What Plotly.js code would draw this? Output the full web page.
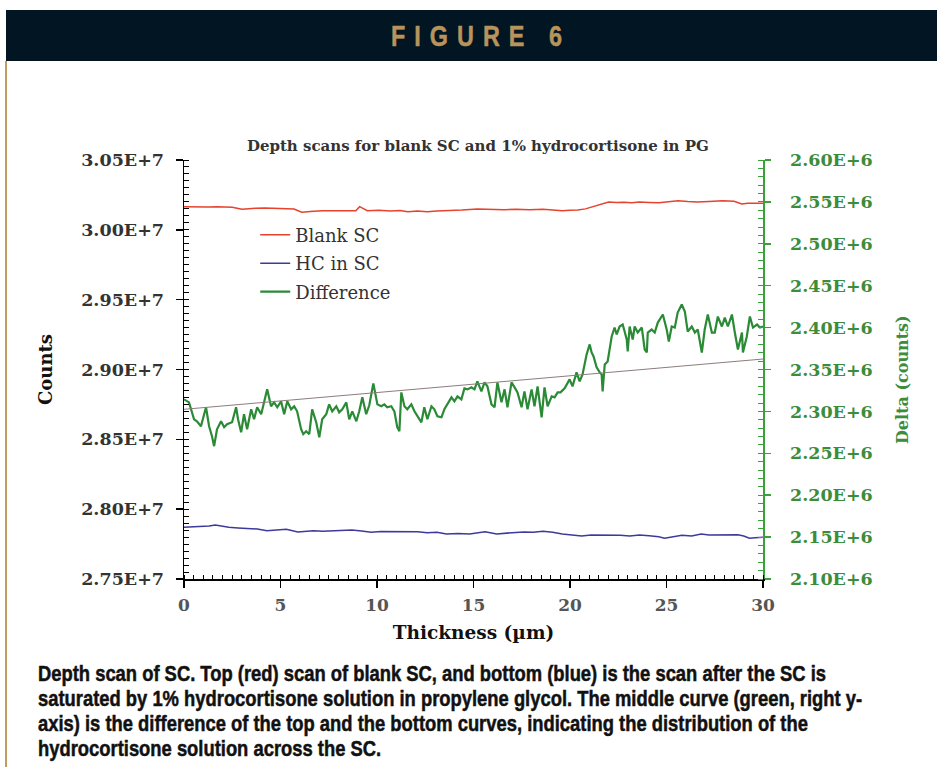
<!DOCTYPE html>
<html>
<head>
<meta charset="utf-8">
<script src="https://cdn.plot.ly/plotly-3.0.1.min.js"></script>
<style>
  html, body { margin: 0; padding: 0; background: #ffffff; }
  #wrap { position: relative; width: 937px; height: 767px; overflow: hidden; background: #ffffff; }
  #chart { position: absolute; left: 0; top: 0; width: 937px; height: 767px; }
  #header { position: absolute; left: 6px; top: 10px; width: 931px; height: 51px; background: #011522; z-index: 2; }
  #headtext { position: absolute; left: 385px; top: 0; line-height: 51px; white-space: nowrap;
              color: #b8935c; font-family: "Liberation Sans", Arial, sans-serif; font-weight: bold; font-size: 30px;
              -webkit-text-stroke: 0.5px #b8935c; transform-origin: 0 50%; }
  #rule { position: absolute; left: 5px; top: 61px; width: 2px; height: 706px; background: #c29c62; z-index: 2; }
  #caption { position: absolute; left: 38px; top: 662px; z-index: 2; color: #111;
             font-family: "Liberation Sans", Arial, sans-serif; font-weight: bold;
             font-size: 21.5px; line-height: 25px; white-space: nowrap; transform-origin: 0 0;
             -webkit-text-stroke: 0.5px #111; }
  #caption span { display: inline-block; }
</style>
</head>
<body>
<div id="wrap">
  <div id="chart"></div>
  <div id="header"><span id="headtext">FIGURE 6</span></div>
  <div id="rule"></div>
  <div id="caption"><span id="cap1">Depth scan of SC. Top (red) scan of blank SC, and bottom (blue) is the scan after the SC is</span><br><span>saturated by 1% hydrocortisone solution in propylene glycol. The middle curve (green, right y-</span><br><span>axis) is the difference of the top and the bottom curves, indicating the distribution of the</span><br><span>hydrocortisone solution across the SC.</span></div>
</div>
<script>
// ---- Data ----
const blankX = [0,0.5,0.93,1.3,1.71,2.1,2.5,3.0,3.3,3.7,4.2,4.7,5.2,5.7,6.1,6.4,6.7,7.2,7.7,8.3,8.9,9.1,9.5,10.1,10.7,11.2,11.6,12.1,12.6,13.1,13.6,14.4,15.2,15.9,16.6,17.2,17.9,18.6,19.1,19.6,20.0,20.4,20.8,21.2,21.6,22.0,22.4,22.8,23.2,23.6,24.1,24.6,25.1,25.6,26.1,26.6,27.2,27.9,28.5,28.9,29.2,29.5,30];
const blankSC = [30165600,30163000,30161300,30164000,30165600,30162000,30161300,30147000,30152000,30154200,30156000,30154200,30152000,30149200,30125700,30130000,30132700,30136000,30137000,30134000,30137000,30165600,30137000,30140000,30134800,30138000,30130000,30134000,30130000,30135000,30137000,30142000,30149200,30146000,30144200,30147000,30144000,30147000,30144000,30137000,30140000,30142000,30150000,30165600,30185000,30199300,30195000,30198000,30194300,30199000,30196000,30194300,30201000,30208600,30203000,30199300,30203000,30208600,30204300,30185000,30190000,30190000,30190000];

const hcX = [0,0.5,0.93,1.3,1.62,2.0,2.32,2.8,3.3,3.8,4.3,4.8,5.3,5.9,6.3,6.7,7.2,7.7,8.2,8.7,9.2,9.7,10.2,10.7,11.2,11.6,12.1,12.6,13.1,13.6,14.2,14.8,15.2,15.6,16.2,16.6,17.0,17.6,18.1,18.6,19.1,19.6,20.1,20.6,21.1,21.6,22.1,22.6,23.1,23.6,24.1,24.6,24.9,25.3,25.8,26.3,26.8,27.2,27.7,28.2,28.7,29.0,29.3,29.6,30];
const hcInSC = [27870100,27874000,27874400,27879000,27886600,27878000,27870100,27866000,27863000,27858000,27845800,27852000,27855800,27836500,27843000,27845800,27841000,27845800,27849000,27850800,27844000,27834300,27840000,27838600,27841000,27836500,27839000,27831500,27834000,27822200,27826000,27822200,27830000,27838600,27822200,27829000,27831500,27836500,27834000,27841500,27835000,27822200,27815000,27808000,27815000,27815000,27810000,27812800,27808000,27815000,27810000,27803000,27791500,27800000,27812800,27808000,27822200,27815000,27815000,27812000,27817000,27808000,27791500,27796000,27798700];

const diffX = [0,0.26,0.52,0.67,0.88,0.99,1.14,1.30,1.45,1.56,1.71,1.92,2.08,2.23,2.49,2.70,2.80,2.96,3.11,3.27,3.48,3.63,3.79,4.00,4.15,4.31,4.51,4.67,4.83,5.03,5.19,5.35,5.55,5.71,5.86,6.07,6.18,6.33,6.49,6.64,6.85,7.01,7.16,7.37,7.52,7.68,7.89,8.04,8.20,8.41,8.56,8.72,8.93,9.08,9.24,9.44,9.60,9.81,10.02,10.22,10.38,10.53,10.74,10.90,11.05,11.16,11.26,11.42,11.57,11.78,11.94,12.09,12.30,12.45,12.61,12.82,12.97,13.13,13.34,13.49,13.65,13.86,14.01,14.17,14.37,14.53,14.69,14.89,15.05,15.20,15.41,15.57,15.72,15.93,16.09,16.24,16.45,16.61,16.76,16.97,17.13,17.28,17.49,17.64,17.80,18.01,18.16,18.32,18.53,18.68,18.84,19.05,19.20,19.36,19.51,19.72,19.98,20.13,20.34,20.50,20.65,20.86,21.02,21.12,21.22,21.38,21.54,21.64,21.69,21.80,21.95,22.16,22.31,22.42,22.57,22.73,22.83,22.94,22.99,23.09,23.25,23.35,23.51,23.72,23.87,23.98,24.03,24.23,24.39,24.55,24.81,25.01,25.12,25.27,25.43,25.58,25.79,25.95,26.10,26.31,26.47,26.62,26.83,26.98,27.14,27.35,27.50,27.66,27.87,28.02,28.18,28.39,28.54,28.70,28.91,28.96,29.16,29.32,29.48,29.69,29.84,30.00];
const difference = [2314400,2310800,2290600,2288200,2282300,2293000,2304900,2282300,2270400,2258500,
  2278700,2288200,2281100,2284700,2287000,2304900,2290600,2275100,2296600,2278700,
  2302500,2290600,2304900,2296600,2310800,2326300,2306100,2310800,2304900,2312000,
  2296600,2312000,2302500,2306100,2300100,2278700,2272800,2276300,2272800,2302500,
  2287000,2269200,2290600,2296600,2308400,2300100,2306100,2298900,2302500,2310800,
  2290600,2300100,2288200,2300100,2316800,2296600,2307300,2333400,2308400,2306100,
  2308400,2304900,2306100,2300100,2281100,2276300,2322700,2306100,2302500,2308400,
  2300100,2294200,2287000,2304900,2290600,2306100,2302500,2294200,2293000,2302500,
  2308400,2316800,2312000,2318000,2314400,2327500,2326300,2328700,2326300,2335800,
  2323900,2334600,2329900,2308400,2304900,2334600,2310800,2326300,2304900,2334600,
  2328700,2322700,2304900,2323900,2302500,2326300,2306100,2329900,2293000,2328700,
  2306100,2318000,2316800,2322700,2322700,2327500,2338200,2329900,2346500,2335800,
  2344200,2368000,2379900,2370300,2365600,2352500,2346500,2344200,2323900,2356100,
  2359600,2389400,2400100,2391800,2401300,2403700,2395300,2385800,2371500,2401300,
  2385800,2401300,2394100,2400100,2373900,2370300,2394100,2397700,2394100,2406000,
  2415600,2397700,2383400,2401300,2400100,2417900,2427500,2419100,2395300,2401300,
  2394100,2397700,2370300,2397700,2415600,2394100,2394100,2413200,2401300,2412000,
  2401300,2415600,2394100,2373900,2394100,2370300,2389400,2413200,2400100,2403700,
  2400100,2401300];

const trendX = [0, 30];
const trendY = [2302500, 2362500];

const xTickVals = [0,5,10,15,20,25,30];
const xTickText = ['0','5','10','15','20','25','30'];
const leftTickVals = [27500000,28000000,28500000,29000000,29500000,30000000,30500000];
const leftTickText = ['2.75E+7','2.80E+7','2.85E+7','2.90E+7','2.95E+7','3.00E+7','3.05E+7'];
const rightTickVals = [2100000,2150000,2200000,2250000,2300000,2350000,2400000,2450000,2500000,2550000,2600000];
const rightTickText = ['2.10E+6','2.15E+6','2.20E+6','2.25E+6','2.30E+6','2.35E+6','2.40E+6','2.45E+6','2.50E+6','2.55E+6','2.60E+6'];

// ---- fit the header/caption text (condensed look) ----
(function fitText() {
  const head = document.getElementById('headtext');
  const s = 0.78, target = 171;
  head.style.letterSpacing = '0px';
  const w0 = head.getBoundingClientRect().width;
  const L = (target / s - w0) / 7;
  head.style.letterSpacing = L + 'px';
  head.style.transform = 'scaleX(' + s + ')';
  const cap = document.getElementById('caption');
  const w1 = document.getElementById('cap1').getBoundingClientRect().width;
  cap.style.transform = 'scaleX(' + (788 / w1) + ')';
})();

// ---- Chart ----
const serif = 'DejaVu Serif, serif';
const traces = [
  {x: blankX, y: blankSC, name: 'Blank SC', type: 'scatter', mode: 'lines', legendgroup: 'a',
   line: {color: '#e5432e', width: 1.5}, yaxis: 'y'},
  {x: hcX, y: hcInSC, name: 'HC in SC', type: 'scatter', mode: 'lines', legendgroup: 'b',
   line: {color: '#3d3a9c', width: 1.5}, yaxis: 'y'},
  {x: diffX, y: difference, name: 'Difference', type: 'scatter', mode: 'lines', legendgroup: 'c',
   line: {color: '#2a8a36', width: 2.2}, yaxis: 'y2'},
  {x: trendX, y: trendY, name: 'trend', type: 'scatter', mode: 'lines', showlegend: false,
   line: {color: '#8d7c7c', width: 1}, yaxis: 'y2'}
];

const layout = {
  width: 937, height: 767,
  margin: {l: 184, r: 174, t: 160, b: 188, pad: 0},
  paper_bgcolor: 'rgba(0,0,0,0)', plot_bgcolor: '#ffffff',
  showlegend: true,
  title: {text: 'Depth scans for blank SC and 1% hydrocortisone in PG',
          font: {family: serif, size: 15, color: '#333', weight: 'bold'},
          xref: 'container', yref: 'container', x: 0.51, xanchor: 'center', y: 1 - 146/767, yanchor: 'middle'},
  legend: {x: 0.123, y: 0.865, xanchor: 'left', yanchor: 'top', bgcolor: 'rgba(0,0,0,0)',
           tracegroupgap: 2,
           font: {family: serif, size: 18, color: '#333'}},
  annotations: [
    {text: 'Delta (counts)', xref: 'paper', yref: 'paper', x: (902 - 184) / 579, y: (579 - 380) / 419,
     xanchor: 'center', yanchor: 'middle', textangle: -90, showarrow: false,
     font: {family: serif, size: 16, color: '#3c8c3c', weight: 'bold'}}
  ],
  xaxis: {range: [0, 30], tickmode: 'array', tickvals: xTickVals, ticktext: xTickText,
          showline: true, linecolor: '#000', linewidth: 1.5, mirror: false,
          ticks: 'outside', ticklen: 7, tickwidth: 1.5, tickcolor: '#000',
          minor: {dtick: 0.5, tick0: 0, ticks: 'inside', ticklen: 4, tickwidth: 1, tickcolor: '#000'},
          showgrid: false, zeroline: false,
          tickfont: {family: serif, size: 17, color: '#555', weight: 'bold'},
          ticklabelstandoff: 3,
          title: {text: 'Thickness (µm)', font: {family: serif, size: 18.5, color: '#111', weight: 'bold'}, standoff: 12}},
  yaxis: {range: [27500000, 30500000], tickmode: 'array', tickvals: leftTickVals, ticktext: leftTickText,
          showline: true, linecolor: '#000', linewidth: 1.5,
          ticks: 'outside', ticklen: 7, tickwidth: 1.5, tickcolor: '#000',
          minor: {dtick: 50000, tick0: 27500000, ticks: 'inside', ticklen: 5, tickwidth: 1, tickcolor: '#000'},
          showgrid: false, zeroline: false,
          tickfont: {family: serif, size: 17.5, color: '#333', weight: 'bold'},
          ticklabelstandoff: 8,
          title: {text: 'Counts', font: {family: serif, size: 18, color: '#111', weight: 'bold'}, standoff: 24}},
  yaxis2: {range: [2100000, 2600000], overlaying: 'y', side: 'right', tickmode: 'array',
           tickvals: rightTickVals, ticktext: rightTickText,
           showline: true, linecolor: '#3aa03a', linewidth: 1.5,
           ticks: 'outside', ticklen: 6, tickwidth: 1.5, tickcolor: '#3aa03a',
           minor: {dtick: 10000, tick0: 2100000, ticks: 'inside', ticklen: 5, tickwidth: 1, tickcolor: '#3aa03a'},
           showgrid: false, zeroline: false,
           tickfont: {family: serif, size: 17.5, color: '#3c8c3c', weight: 'bold'},
           ticklabelstandoff: 16}
};

Plotly.newPlot('chart', traces, layout, {displayModeBar: false, staticPlot: true});
</script>
</body>
</html>
